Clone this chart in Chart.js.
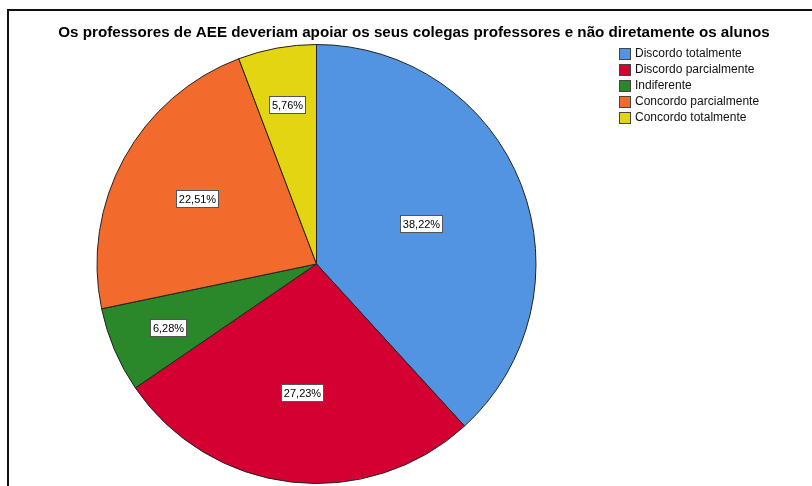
<!DOCTYPE html>
<html lang="pt">
<head>
    <meta charset="UTF-8">
    <title>Os professores de AEE</title>
    <script src="https://cdn.jsdelivr.net/npm/chart.js"></script>
    <style>
        body {
            margin: 0;
            padding: 0;
            background: #fff;
            overflow: hidden;
        }
        .frame {
            position: absolute;
            left: 7px;
            top: 9px;
            width: 830px;
            height: 500px;
            border-left: 2px solid #111;
            border-top: 2px solid #111;
        }
        #pie {
            position: absolute;
            left: 0;
            top: 0;
        }
    </style>
</head>
<body>

    <div class="frame"></div>
    <canvas id="pie" width="812" height="486"></canvas>

    <script>
        // dados
        const chartTitle = "Os professores de AEE deveriam apoiar os seus colegas professores e não diretamente os alunos";
        const categories = ["Discordo totalmente", "Discordo parcialmente", "Indiferente", "Concordo parcialmente", "Concordo totalmente"];
        const percentages = [38.22, 27.23, 6.28, 22.51, 5.76];
        const sliceColors = ["#5294e2", "#d50032", "#2a882a", "#f26a2c", "#e3d511"];

        const FONT = "Arial, 'Liberation Sans', sans-serif";

        // titulo, legenda e rotulos das fatias
        const decorations = {
            id: "decorations",
            afterDraw(chart) {
                const ctx = chart.ctx;
                ctx.save();

                // titulo
                ctx.font = "bold 15.2px " + FONT;
                ctx.fillStyle = "#000";
                ctx.textAlign = "center";
                ctx.textBaseline = "alphabetic";
                ctx.fillText(chartTitle, 414, 37);

                // legenda
                ctx.font = "12px " + FONT;
                ctx.textAlign = "left";
                ctx.textBaseline = "middle";
                chart.data.labels.forEach((label, i) => {
                    const y = 54 + i * 16;
                    ctx.fillStyle = sliceColors[i];
                    ctx.fillRect(619, y - 6, 11, 11);
                    ctx.strokeStyle = "#444";
                    ctx.lineWidth = 1;
                    ctx.strokeRect(619.5, y - 5.5, 11, 11);
                    ctx.fillStyle = "#111";
                    ctx.fillText(label, 635, y);
                });

                // rotulos de percentagem
                ctx.font = "11px " + FONT;
                ctx.textAlign = "center";
                const arcs = chart.getDatasetMeta(0).data;
                arcs.forEach((arc, i) => {
                    const p = arc.getProps(["x", "y", "startAngle", "endAngle", "outerRadius"], true);
                    const mid = (p.startAngle + p.endAngle) / 2;
                    const share = percentages[i];
                    const frac = 0.78 - 0.007 * share;
                    const cx = p.x + Math.cos(mid) * p.outerRadius * frac;
                    const cy = p.y + Math.sin(mid) * p.outerRadius * frac;
                    const text = share.toFixed(2).replace(".", ",") + "%";
                    const w = Math.round(ctx.measureText(text).width) + 5;
                    const h = 17;
                    const bx = Math.round(cx - w / 2) + 0.5;
                    const by = Math.round(cy - h / 2) + 0.5;
                    ctx.fillStyle = "#fff";
                    ctx.fillRect(bx, by, w, h);
                    ctx.strokeStyle = "#555";
                    ctx.strokeRect(bx, by, w, h);
                    ctx.fillStyle = "#000";
                    ctx.fillText(text, bx + w / 2, by + h / 2 + 0.5);
                });

                ctx.restore();
            }
        };

        const ctx = document.getElementById("pie").getContext("2d");
        new Chart(ctx, {
            type: "pie",
            data: {
                labels: categories,
                datasets: [{
                    data: percentages,
                    backgroundColor: sliceColors,
                    borderColor: "#222",
                    borderWidth: 1
                }]
            },
            options: {
                responsive: false,
                animation: false,
                layout: {
                    padding: { left: 96, right: 275, top: 44, bottom: 2 }
                },
                plugins: {
                    legend: { display: false },
                    title: { display: false },
                    tooltip: { enabled: false }
                }
            },
            plugins: [decorations]
        });
    </script>

</body>
</html>
